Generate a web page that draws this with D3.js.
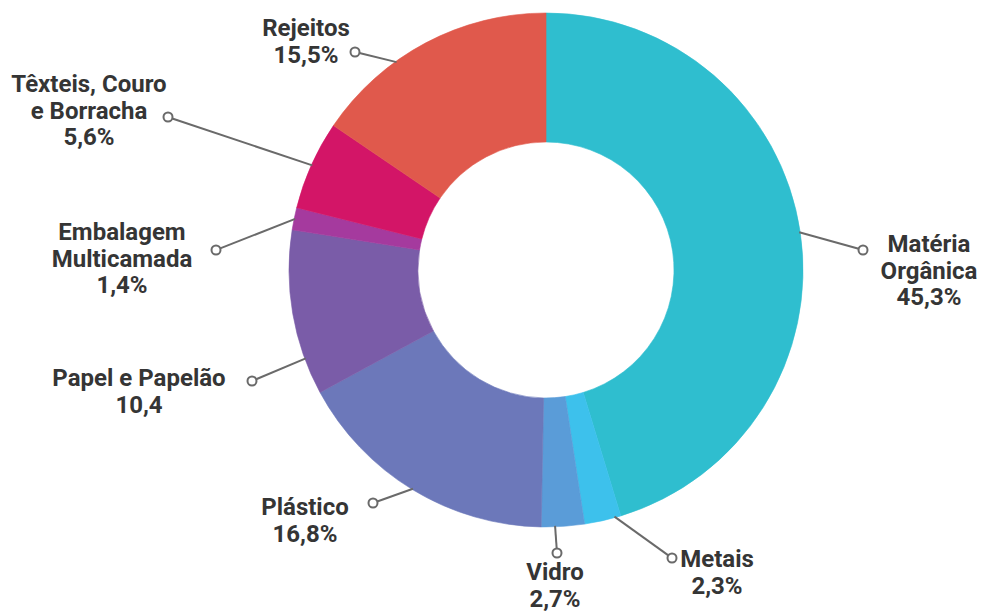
<!DOCTYPE html>
<html>
<head>
<meta charset="utf-8">
<script src="https://cdn.jsdelivr.net/npm/d3@7"></script>
<style>
  html, body { margin: 0; padding: 0; background: #ffffff; }
  svg { display: block; }
  text { font-family: Roboto, "Noto Sans", sans-serif; font-weight: 700; fill: #353535; }
</style>
</head>
<body>
<svg id="chart" width="981" height="614"></svg>
<script>
// Composição gravimétrica dos resíduos (%)
const categories = [
  "Matéria Orgânica", "Metais", "Vidro", "Plástico",
  "Papel e Papelão", "Embalagem Multicamada", "Têxteis, Couro e Borracha", "Rejeitos"
];
const values = [45.3, 2.3, 2.7, 16.8, 10.4, 1.4, 5.6, 15.5];
const labelLines = [
  ["Matéria", "Orgânica", "45,3%"],
  ["Metais", "2,3%"],
  ["Vidro", "2,7%"],
  ["Plástico", "16,8%"],
  ["Papel e Papelão", "10,4"],
  ["Embalagem", "Multicamada", "1,4%"],
  ["Têxteis, Couro", "e Borracha", "5,6%"],
  ["Rejeitos", "15,5%"]
];
const colors = ["#2fbecf", "#3dc1ec", "#5a9cd8", "#6c78ba", "#7a5ca8", "#a53a9e", "#d31567", "#e0594c"];

// Label placement: text centre / first baseline, marker point, and where along the slice the leader starts
const layout = [
  { lx: 929, ly: 252, mx: 863, my: 250, at: 0.5 },
  { lx: 717, ly: 567, mx: 672, my: 558, at: 0.17 },
  { lx: 555, ly: 580, mx: 557, my: 553, at: 0.68 },
  { lx: 305, ly: 515, mx: 373, my: 503, at: 0.5 },
  { lx: 139, ly: 386, mx: 252, my: 381, at: 0.22 },
  { lx: 122, ly: 240, mx: 216, my: 250, at: 0.5 },
  { lx: 89,  ly: 92,  mx: 168, my: 117, at: 0.5 },
  { lx: 306, ly: 36,  mx: 355, my: 52,  at: 0.36 }
];

const cx = 546, cy = 270, outerR = 257, innerR = 128, lineH = 26.5;

const svg = d3.select("#chart");
const g = svg.append("g").attr("transform", `translate(${cx},${cy})`);

const pie = d3.pie().sort(null).value(d => d.value);
const data = categories.map((c, i) => ({ name: c, value: values[i], i }));
const arcs = pie(data);

const arc = d3.arc().innerRadius(innerR).outerRadius(outerR);

g.selectAll("path.slice")
  .data(arcs)
  .join("path")
  .attr("class", "slice")
  .attr("d", arc)
  .attr("fill", d => colors[d.data.i])
  .attr("stroke", d => colors[d.data.i])
  .attr("stroke-width", 0.6);

// Leader lines and end markers
const leaders = svg.append("g");
arcs.forEach(d => {
  const L = layout[d.data.i];
  const a = d.startAngle + (d.endAngle - d.startAngle) * L.at;
  const sx = cx + Math.sin(a) * (outerR - 1);
  const sy = cy - Math.cos(a) * (outerR - 1);
  const dx = L.mx - sx, dy = L.my - sy, len = Math.hypot(dx, dy);
  const mr = 4.5;
  leaders.append("line")
    .attr("x1", sx).attr("y1", sy)
    .attr("x2", L.mx - dx / len * mr).attr("y2", L.my - dy / len * mr)
    .attr("stroke", "#6a6a6a").attr("stroke-width", 2);
  leaders.append("circle")
    .attr("cx", L.mx).attr("cy", L.my).attr("r", mr)
    .attr("fill", "#ffffff").attr("stroke", "#6a6a6a").attr("stroke-width", 2);
});

// Category labels
const labels = svg.append("g");
data.forEach(d => {
  const L = layout[d.i];
  const t = labels.append("text")
    .attr("text-anchor", "middle")
    .attr("font-size", 24);
  labelLines[d.i].forEach((s, k) => {
    t.append("tspan").attr("x", L.lx).attr("y", L.ly + k * lineH).text(s);
  });
});
</script>
</body>
</html>
